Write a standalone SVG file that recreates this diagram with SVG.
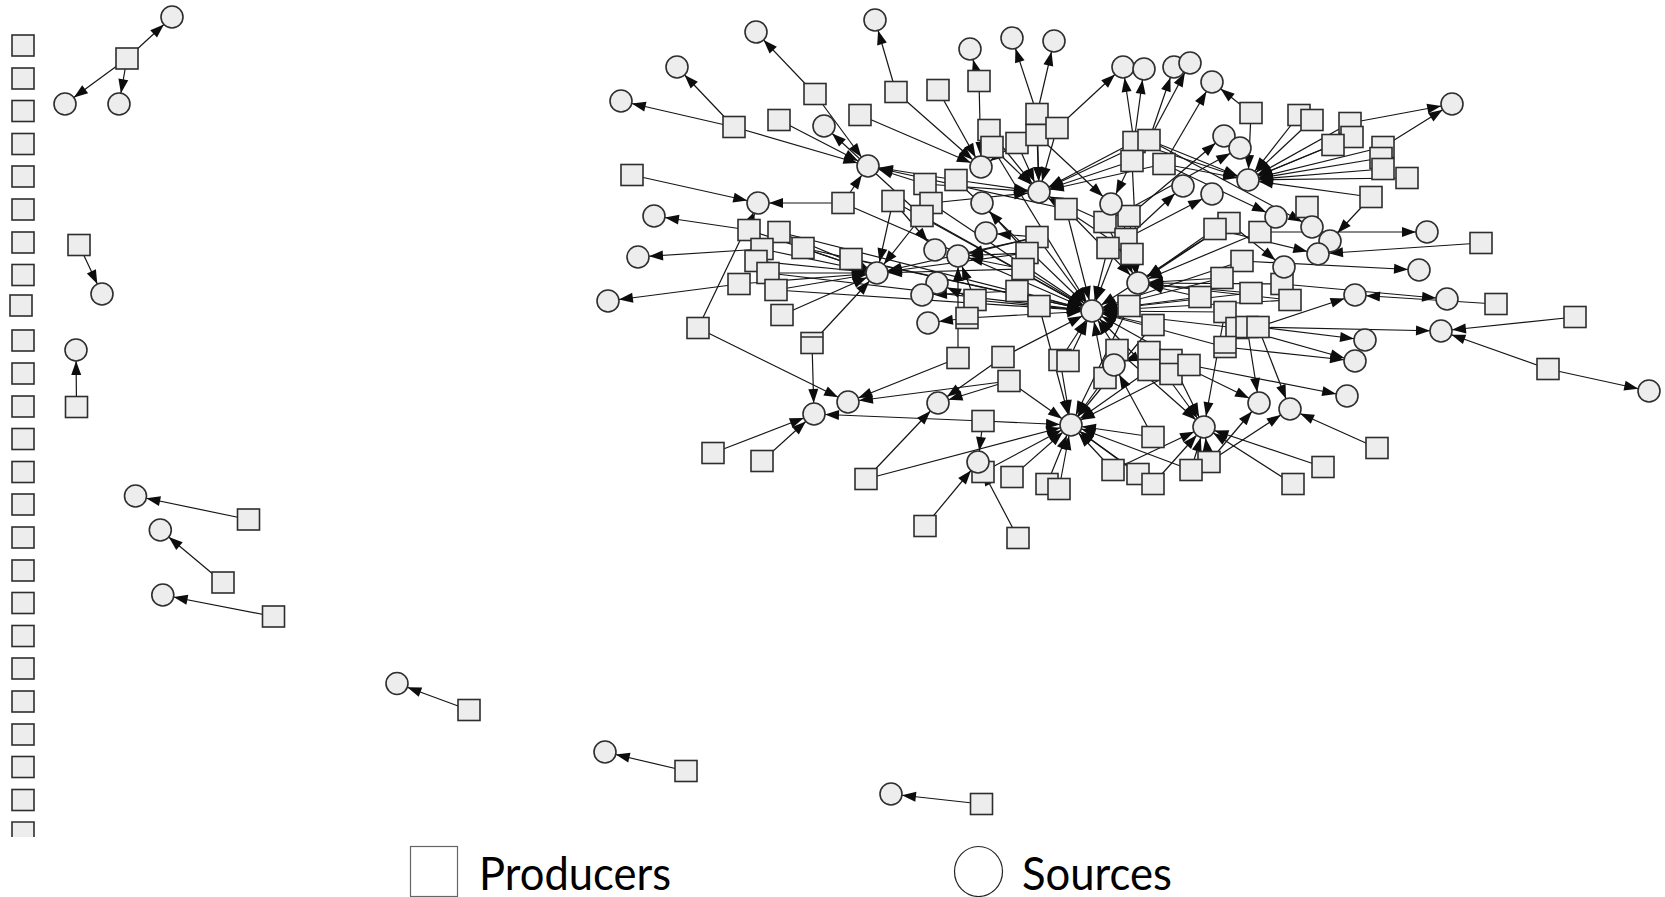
<svg xmlns="http://www.w3.org/2000/svg" width="1665" height="897" viewBox="0 0 1665 897">
<style>
.e line{stroke:#151515;stroke-width:1.2;marker-end:url(#a)}
.n rect,.n circle,.n path.f{fill:#ededed;stroke:#2e2e2e;stroke-width:1.6}
.n line{stroke:#2e2e2e;stroke-width:1.5}
.lg{font-family:"Lato","Liberation Sans",sans-serif;font-size:46px;fill:#000}
</style>
<defs>
<marker id="a" viewBox="-27 -7 28 14" refX="0" refY="0" markerWidth="28" markerHeight="14" markerUnits="userSpaceOnUse" orient="auto"><path d="M-25,-5 L-11,0 L-25,5 z" fill="#0d0d0d"/></marker>
</defs>
<rect width="1665" height="897" fill="#fff"/>
<g id="connectors" class="e">
<line x1="127" y1="58.5" x2="172" y2="17"/><line x1="127" y1="58.5" x2="65" y2="104"/><line x1="127" y1="58.5" x2="119" y2="104"/>
<line x1="79" y1="245" x2="102" y2="294"/>
<line x1="76.5" y1="407" x2="76" y2="350"/>
<line x1="248.5" y1="519.5" x2="135.5" y2="496"/>
<line x1="223" y1="582.5" x2="160.3" y2="530"/>
<line x1="273.5" y1="616.5" x2="162.8" y2="595"/>
<line x1="469" y1="710" x2="397" y2="683.5"/>
<line x1="686" y1="771" x2="605" y2="752"/>
<line x1="981.5" y1="804" x2="891" y2="794"/>
<line x1="815" y1="94" x2="756" y2="32"/><line x1="815" y1="94" x2="868" y2="166"/>
<line x1="896" y1="92" x2="875" y2="20"/><line x1="896" y1="92" x2="981" y2="167"/>
<line x1="938" y1="90" x2="981" y2="167"/>
<line x1="979" y1="81" x2="970" y2="49"/><line x1="979" y1="81" x2="981" y2="167"/>
<line x1="734" y1="127" x2="677" y2="67"/><line x1="734" y1="127" x2="621" y2="101"/><line x1="734" y1="127" x2="868" y2="166"/>
<line x1="779" y1="120" x2="868" y2="166"/>
<line x1="860" y1="115" x2="981" y2="167"/>
<line x1="989" y1="130" x2="981" y2="167"/><line x1="989" y1="130" x2="1039" y2="192"/>
<line x1="992" y1="147" x2="1039" y2="192"/><line x1="992" y1="147" x2="1092" y2="311"/>
<line x1="1017" y1="143" x2="981" y2="167"/><line x1="1017" y1="143" x2="1039" y2="192"/>
<line x1="1037" y1="114" x2="1012" y2="38"/><line x1="1037" y1="114" x2="1054" y2="41"/><line x1="1037" y1="114" x2="1039" y2="192"/>
<line x1="1037" y1="135" x2="1039" y2="192"/><line x1="1037" y1="135" x2="1111" y2="204"/>
<line x1="1057" y1="128" x2="1123" y2="67"/><line x1="1057" y1="128" x2="1039" y2="192"/>
<line x1="632" y1="175" x2="758" y2="203"/>
<line x1="925" y1="184" x2="868" y2="166"/><line x1="925" y1="184" x2="1039" y2="192"/>
<line x1="956" y1="180" x2="868" y2="166"/><line x1="956" y1="180" x2="1039" y2="192"/><line x1="956" y1="180" x2="1092" y2="311"/>
<line x1="843" y1="203" x2="758" y2="203"/><line x1="843" y1="203" x2="868" y2="166"/><line x1="843" y1="203" x2="1092" y2="311"/>
<line x1="893" y1="201" x2="877" y2="273"/><line x1="893" y1="201" x2="1092" y2="311"/><line x1="893" y1="201" x2="935" y2="250"/>
<line x1="931" y1="203" x2="1039" y2="192"/><line x1="931" y1="203" x2="1092" y2="311"/>
<line x1="922" y1="216" x2="877" y2="273"/><line x1="922" y1="216" x2="1092" y2="311"/><line x1="922" y1="216" x2="824" y2="126"/>
<line x1="1037" y1="237" x2="986" y2="233"/><line x1="1037" y1="237" x2="958" y2="256"/><line x1="1037" y1="237" x2="877" y2="273"/><line x1="1037" y1="237" x2="1092" y2="311"/>
<line x1="1027" y1="253" x2="982" y2="203"/><line x1="1027" y1="253" x2="958" y2="256"/><line x1="1027" y1="253" x2="877" y2="273"/>
<line x1="1023" y1="269" x2="958" y2="256"/><line x1="1023" y1="269" x2="877" y2="273"/><line x1="1023" y1="269" x2="1092" y2="311"/>
<line x1="851" y1="259" x2="877" y2="273"/><line x1="851" y1="259" x2="1092" y2="311"/>
<line x1="749" y1="230" x2="758" y2="203"/><line x1="749" y1="230" x2="654" y2="216"/><line x1="749" y1="230" x2="877" y2="273"/>
<line x1="779" y1="232" x2="877" y2="273"/><line x1="779" y1="232" x2="1092" y2="311"/>
<line x1="803" y1="248" x2="877" y2="273"/><line x1="803" y1="248" x2="1092" y2="311"/>
<line x1="762" y1="249" x2="638" y2="257"/><line x1="762" y1="249" x2="877" y2="273"/>
<line x1="756" y1="261" x2="877" y2="273"/>
<line x1="768" y1="273" x2="877" y2="273"/><line x1="768" y1="273" x2="1092" y2="311"/>
<line x1="739" y1="284" x2="608" y2="301"/><line x1="739" y1="284" x2="877" y2="273"/>
<line x1="776" y1="290" x2="877" y2="273"/><line x1="776" y1="290" x2="1092" y2="311"/>
<line x1="782" y1="315" x2="877" y2="273"/>
<line x1="698" y1="328" x2="758" y2="203"/><line x1="698" y1="328" x2="848" y2="402"/>
<line x1="812" y1="343" x2="877" y2="273"/><line x1="812" y1="343" x2="814" y2="414"/>
<line x1="1066" y1="209" x2="868" y2="166"/><line x1="1066" y1="209" x2="1138" y2="283"/><line x1="1066" y1="209" x2="1092" y2="311"/>
<line x1="1134" y1="142" x2="1123" y2="67"/><line x1="1134" y1="142" x2="1144" y2="69"/><line x1="1134" y1="142" x2="1248" y2="180"/><line x1="1134" y1="142" x2="1039" y2="192"/>
<line x1="1149" y1="140" x2="1174" y2="67"/><line x1="1149" y1="140" x2="1190" y2="63"/><line x1="1149" y1="140" x2="1248" y2="180"/><line x1="1149" y1="140" x2="1039" y2="192"/><line x1="1149" y1="140" x2="1312" y2="227"/>
<line x1="1132" y1="161" x2="1111" y2="204"/><line x1="1132" y1="161" x2="1039" y2="192"/><line x1="1132" y1="161" x2="1138" y2="283"/>
<line x1="1164" y1="164" x2="1212" y2="82"/><line x1="1164" y1="164" x2="1248" y2="180"/><line x1="1164" y1="164" x2="1039" y2="192"/><line x1="1164" y1="164" x2="1276" y2="217"/>
<line x1="1251" y1="113" x2="1212" y2="82"/><line x1="1251" y1="113" x2="1248" y2="180"/>
<line x1="1299" y1="115" x2="1248" y2="180"/>
<line x1="1312" y1="120" x2="1248" y2="180"/>
<line x1="1350" y1="123" x2="1248" y2="180"/><line x1="1350" y1="123" x2="1452" y2="104"/>
<line x1="1333" y1="145" x2="1248" y2="180"/>
<line x1="1352" y1="137" x2="1248" y2="180"/>
<line x1="1383" y1="147" x2="1248" y2="180"/><line x1="1383" y1="147" x2="1452" y2="104"/>
<line x1="1381" y1="158" x2="1248" y2="180"/>
<line x1="1383" y1="169" x2="1248" y2="180"/>
<line x1="1407" y1="178" x2="1248" y2="180"/>
<line x1="1371" y1="197" x2="1248" y2="180"/><line x1="1371" y1="197" x2="1330" y2="241"/>
<line x1="1307" y1="207" x2="1312" y2="227"/>
<line x1="1105" y1="222" x2="1240" y2="148"/><line x1="1105" y1="222" x2="1138" y2="283"/><line x1="1105" y1="222" x2="1039" y2="192"/>
<line x1="1129" y1="216" x2="1224" y2="136"/><line x1="1129" y1="216" x2="1138" y2="283"/><line x1="1129" y1="216" x2="1092" y2="311"/>
<line x1="1126" y1="239" x2="1183" y2="186"/><line x1="1126" y1="239" x2="1138" y2="283"/>
<line x1="1108" y1="248" x2="1212" y2="194"/><line x1="1108" y1="248" x2="1092" y2="311"/>
<line x1="1132" y1="254" x2="1138" y2="283"/><line x1="1132" y1="254" x2="1039" y2="192"/>
<line x1="1229" y1="223" x2="1284" y2="267"/><line x1="1229" y1="223" x2="1138" y2="283"/><line x1="1229" y1="223" x2="1092" y2="311"/>
<line x1="1215" y1="229" x2="1318" y2="254"/><line x1="1215" y1="229" x2="1138" y2="283"/>
<line x1="1260" y1="232" x2="1427" y2="232"/><line x1="1260" y1="232" x2="1138" y2="283"/>
<line x1="1242" y1="261" x2="1419" y2="270"/><line x1="1242" y1="261" x2="1092" y2="311"/>
<line x1="1222" y1="278" x2="1138" y2="283"/><line x1="1222" y1="278" x2="1092" y2="311"/>
<line x1="1481" y1="243" x2="1318" y2="254"/>
<line x1="1282" y1="284" x2="1447" y2="299"/><line x1="1282" y1="284" x2="1138" y2="283"/>
<line x1="1251" y1="293" x2="1138" y2="283"/><line x1="1251" y1="293" x2="1092" y2="311"/>
<line x1="1200" y1="297" x2="1138" y2="283"/><line x1="1200" y1="297" x2="1092" y2="311"/>
<line x1="1017" y1="291" x2="922" y2="295"/><line x1="1017" y1="291" x2="1092" y2="311"/>
<line x1="1496" y1="304" x2="1355" y2="295"/>
<line x1="1129" y1="306" x2="1092" y2="311"/><line x1="1129" y1="306" x2="1071" y2="425"/>
<line x1="1153" y1="325" x2="1092" y2="311"/><line x1="1153" y1="325" x2="1071" y2="425"/>
<line x1="1117" y1="350" x2="1092" y2="311"/><line x1="1117" y1="350" x2="1204" y2="427"/>
<line x1="1149" y1="352" x2="1114" y2="365"/><line x1="1149" y1="352" x2="1204" y2="427"/>
<line x1="1149" y1="370" x2="1071" y2="425"/><line x1="1149" y1="370" x2="1092" y2="311"/>
<line x1="1171" y1="360" x2="1204" y2="427"/><line x1="1171" y1="360" x2="1259" y2="403"/>
<line x1="1171" y1="374" x2="1071" y2="425"/>
<line x1="1189" y1="365" x2="1347" y2="396"/><line x1="1189" y1="365" x2="1092" y2="311"/>
<line x1="1105" y1="378" x2="1092" y2="311"/><line x1="1105" y1="378" x2="1071" y2="425"/>
<line x1="1290" y1="300" x2="1138" y2="283"/><line x1="1290" y1="300" x2="1092" y2="311"/>
<line x1="1225" y1="312" x2="1204" y2="427"/><line x1="1225" y1="312" x2="1092" y2="311"/>
<line x1="1237" y1="328" x2="1092" y2="311"/><line x1="1237" y1="328" x2="1355" y2="361"/>
<line x1="1247" y1="327" x2="1441" y2="331"/><line x1="1247" y1="327" x2="1259" y2="403"/>
<line x1="1258" y1="327" x2="1365" y2="340"/><line x1="1258" y1="327" x2="1290" y2="409"/><line x1="1258" y1="327" x2="1355" y2="295"/>
<line x1="1225" y1="347" x2="1355" y2="361"/><line x1="1225" y1="347" x2="1092" y2="311"/>
<line x1="1153" y1="437" x2="1114" y2="365"/><line x1="1153" y1="437" x2="1071" y2="425"/>
<line x1="1209" y1="462" x2="1259" y2="403"/><line x1="1209" y1="462" x2="1290" y2="409"/><line x1="1209" y1="462" x2="1204" y2="427"/>
<line x1="1191" y1="470" x2="1204" y2="427"/><line x1="1191" y1="470" x2="1071" y2="425"/>
<line x1="1323" y1="467" x2="1204" y2="427"/>
<line x1="1113" y1="470" x2="1071" y2="425"/><line x1="1113" y1="470" x2="1204" y2="427"/>
<line x1="1138" y1="474" x2="1071" y2="425"/>
<line x1="1153" y1="484" x2="1204" y2="427"/><line x1="1153" y1="484" x2="1071" y2="425"/>
<line x1="975" y1="300" x2="937" y2="283"/><line x1="975" y1="300" x2="1092" y2="311"/><line x1="975" y1="300" x2="958" y2="256"/>
<line x1="1039" y1="306" x2="1092" y2="311"/><line x1="1039" y1="306" x2="1071" y2="425"/>
<line x1="967" y1="318" x2="928" y2="323"/><line x1="967" y1="318" x2="1092" y2="311"/>
<line x1="958" y1="358" x2="958" y2="256"/><line x1="958" y1="358" x2="848" y2="402"/>
<line x1="1003" y1="357" x2="938" y2="403"/><line x1="1003" y1="357" x2="1092" y2="311"/>
<line x1="1009" y1="381" x2="848" y2="402"/><line x1="1009" y1="381" x2="938" y2="403"/><line x1="1009" y1="381" x2="1071" y2="425"/>
<line x1="983" y1="421" x2="814" y2="414"/><line x1="983" y1="421" x2="978" y2="462"/><line x1="983" y1="421" x2="1071" y2="425"/>
<line x1="1060" y1="360" x2="1092" y2="311"/><line x1="1060" y1="360" x2="1071" y2="425"/>
<line x1="1068" y1="361" x2="1092" y2="311"/>
<line x1="866" y1="479" x2="938" y2="403"/><line x1="866" y1="479" x2="1071" y2="425"/>
<line x1="1012" y1="477" x2="1071" y2="425"/>
<line x1="1047" y1="484" x2="1071" y2="425"/>
<line x1="1059" y1="489" x2="1071" y2="425"/>
<line x1="713" y1="453" x2="814" y2="414"/>
<line x1="762" y1="461" x2="814" y2="414"/>
<line x1="925" y1="526" x2="978" y2="462"/>
<line x1="1018" y1="538" x2="978" y2="462"/>
<line x1="1548" y1="369" x2="1649" y2="391"/><line x1="1548" y1="369" x2="1441" y2="331"/>
<line x1="1575" y1="317" x2="1441" y2="331"/>
<line x1="1377" y1="448" x2="1290" y2="409"/>
<line x1="1293" y1="484" x2="1204" y2="427"/>
<line x1="983" y1="472" x2="1071" y2="425"/>
</g>
<g id="nodes" class="n">
<g id="col"><rect x="12" y="35" width="22" height="21"/><rect x="12" y="68" width="22" height="21"/><rect x="12" y="100.5" width="22" height="21"/><rect x="12" y="133.5" width="22" height="21"/><rect x="12" y="166" width="22" height="21"/><rect x="12" y="199" width="22" height="21"/><rect x="12" y="232" width="22" height="21"/><rect x="12" y="264.5" width="22" height="21"/><rect x="10" y="295" width="22" height="21"/><rect x="12" y="330" width="22" height="21"/><rect x="12" y="363" width="22" height="21"/><rect x="12" y="396" width="22" height="21"/><rect x="12" y="428.5" width="22" height="21"/><rect x="12" y="461.5" width="22" height="21"/><rect x="12" y="494" width="22" height="21"/><rect x="12" y="527" width="22" height="21"/><rect x="12" y="560" width="22" height="21"/><rect x="12" y="592.5" width="22" height="21"/><rect x="12" y="625.5" width="22" height="21"/><rect x="12" y="658" width="22" height="21"/><rect x="12" y="691" width="22" height="21"/><rect x="12" y="724" width="22" height="21"/><rect x="12" y="756.5" width="22" height="21"/><rect x="12" y="789.5" width="22" height="21"/><path class="f" d="M12,837V822H34V837"/></g>
<g id="q1"><rect x="116" y="48" width="22" height="21"/></g>
<g id="q2"><rect x="68" y="234.5" width="22" height="21"/></g>
<g id="q3"><rect x="65.5" y="396.5" width="22" height="21"/></g>
<g id="q4"><rect x="237.5" y="509" width="22" height="21"/></g>
<g id="q5"><rect x="212" y="572" width="22" height="21"/></g>
<g id="q6"><rect x="262.5" y="606" width="22" height="21"/></g>
<g id="q7"><rect x="458" y="699.5" width="22" height="21"/></g>
<g id="q8"><rect x="675" y="760.5" width="22" height="21"/></g>
<g id="q9"><rect x="970.5" y="793.5" width="22" height="21"/></g>
<g id="t1"><circle cx="172" cy="17" r="11"/></g>
<g id="t2"><circle cx="65" cy="104" r="11"/></g>
<g id="t3"><circle cx="119" cy="104" r="11"/></g>
<g id="t4"><circle cx="102" cy="294" r="11"/></g>
<g id="t5"><circle cx="76" cy="350" r="11"/></g>
<g id="t6"><circle cx="135.5" cy="496" r="11"/></g>
<g id="t7"><circle cx="160.3" cy="530" r="11"/></g>
<g id="t8"><circle cx="162.8" cy="595" r="11"/></g>
<g id="b1"><circle cx="397" cy="683.5" r="11"/></g>
<g id="b2"><circle cx="605" cy="752" r="11"/></g>
<g id="b3"><circle cx="891" cy="794" r="11"/></g>
<g id="p1"><rect x="804" y="83.5" width="22" height="21"/></g>
<g id="p2"><rect x="885" y="81.5" width="22" height="21"/></g>
<g id="p3"><rect x="927" y="79.5" width="22" height="21"/></g>
<g id="p4"><rect x="968" y="70.5" width="22" height="21"/></g>
<g id="p5"><rect x="723" y="116.5" width="22" height="21"/></g>
<g id="p6"><rect x="768" y="109.5" width="22" height="21"/></g>
<g id="p7"><rect x="849" y="104.5" width="22" height="21"/></g>
<g id="p8"><rect x="978" y="119.5" width="22" height="21"/></g>
<g id="p9"><rect x="981" y="136.5" width="22" height="21"/></g>
<g id="p10"><rect x="1006" y="132.5" width="22" height="21"/></g>
<g id="p11"><rect x="1026" y="103.5" width="22" height="21"/></g>
<g id="p12"><rect x="1026" y="124.5" width="22" height="21"/></g>
<g id="p13"><rect x="1046" y="117.5" width="22" height="21"/></g>
<g id="p14"><rect x="621" y="164.5" width="22" height="21"/></g>
<g id="p15"><rect x="914" y="173.5" width="22" height="21"/></g>
<g id="p16"><rect x="945" y="169.5" width="22" height="21"/></g>
<g id="p17"><rect x="832" y="192.5" width="22" height="21"/></g>
<g id="p18"><rect x="882" y="190.5" width="22" height="21"/></g>
<g id="p19"><rect x="920" y="192.5" width="22" height="21"/></g>
<g id="p20"><rect x="911" y="205.5" width="22" height="21"/></g>
<g id="p21"><rect x="1026" y="226.5" width="22" height="21"/></g>
<g id="p22"><rect x="1016" y="242.5" width="22" height="21"/></g>
<g id="p23"><rect x="1012" y="258.5" width="22" height="21"/></g>
<g id="p24"><rect x="840" y="248.5" width="22" height="21"/></g>
<g id="p25"><rect x="738" y="219.5" width="22" height="21"/></g>
<g id="p26"><rect x="768" y="221.5" width="22" height="21"/></g>
<g id="p27"><rect x="792" y="237.5" width="22" height="21"/></g>
<g id="p28"><rect x="751" y="238.5" width="22" height="21"/></g>
<g id="p29"><rect x="745" y="250.5" width="22" height="21"/></g>
<g id="p30"><rect x="757" y="262.5" width="22" height="21"/></g>
<g id="p31"><rect x="728" y="273.5" width="22" height="21"/></g>
<g id="p32"><rect x="765" y="279.5" width="22" height="21"/></g>
<g id="p33"><rect x="771" y="304.5" width="22" height="21"/></g>
<g id="p34"><rect x="687" y="317.5" width="22" height="21"/></g>
<g id="p35"><rect x="801" y="332.5" width="22" height="21"/><line x1="801" y1="337" x2="823" y2="337"/></g>
<g id="p36"><rect x="1055" y="198.5" width="22" height="21"/></g>
<g id="p37"><rect x="1123" y="131.5" width="22" height="21"/></g>
<g id="p38"><rect x="1138" y="129.5" width="22" height="21"/></g>
<g id="p39"><rect x="1121" y="150.5" width="22" height="21"/></g>
<g id="p40"><rect x="1153" y="153.5" width="22" height="21"/></g>
<g id="p41"><rect x="1240" y="102.5" width="22" height="21"/></g>
<g id="p42"><rect x="1288" y="104.5" width="22" height="21"/></g>
<g id="p43"><rect x="1301" y="109.5" width="22" height="21"/></g>
<g id="p44"><rect x="1339" y="112.5" width="22" height="21"/></g>
<g id="p46"><rect x="1341" y="126.5" width="22" height="21"/></g>
<g id="p45"><rect x="1322" y="134.5" width="22" height="21"/></g>
<g id="p47"><rect x="1372" y="136.5" width="22" height="21"/></g>
<g id="p48"><rect x="1370" y="147.5" width="22" height="21"/></g>
<g id="p49"><rect x="1372" y="158.5" width="22" height="21"/></g>
<g id="p50"><rect x="1396" y="167.5" width="22" height="21"/></g>
<g id="p51"><rect x="1360" y="186.5" width="22" height="21"/></g>
<g id="p52"><rect x="1296" y="196.5" width="22" height="21"/></g>
<g id="p53"><rect x="1094" y="211.5" width="22" height="21"/></g>
<g id="p54"><rect x="1118" y="205.5" width="22" height="21"/></g>
<g id="p55"><rect x="1115" y="228.5" width="22" height="21"/></g>
<g id="p56"><rect x="1097" y="237.5" width="22" height="21"/></g>
<g id="p57"><rect x="1121" y="243.5" width="22" height="21"/></g>
<g id="p58"><rect x="1218" y="212.5" width="22" height="21"/></g>
<g id="p59"><rect x="1204" y="218.5" width="22" height="21"/></g>
<g id="p60"><rect x="1249" y="221.5" width="22" height="21"/></g>
<g id="p61"><rect x="1231" y="250.5" width="22" height="21"/></g>
<g id="p62"><rect x="1211" y="267.5" width="22" height="21"/></g>
<g id="p63"><rect x="1470" y="232.5" width="22" height="21"/></g>
<g id="p64"><rect x="1271" y="273.5" width="22" height="21"/></g>
<g id="p65"><rect x="1240" y="282.5" width="22" height="21"/></g>
<g id="p66"><rect x="1189" y="286.5" width="22" height="21"/></g>
<g id="p67"><rect x="1006" y="280.5" width="22" height="21"/></g>
<g id="p68"><rect x="1485" y="293.5" width="22" height="21"/></g>
<g id="p69"><rect x="1118" y="295.5" width="22" height="21"/></g>
<g id="p70"><rect x="1142" y="314.5" width="22" height="21"/></g>
<g id="p71"><rect x="1106" y="339.5" width="22" height="21"/></g>
<g id="p72"><rect x="1138" y="341.5" width="22" height="21"/></g>
<g id="p73"><rect x="1138" y="359.5" width="22" height="21"/></g>
<g id="p74"><rect x="1160" y="349.5" width="22" height="21"/></g>
<g id="p75"><rect x="1160" y="363.5" width="22" height="21"/></g>
<g id="p76"><rect x="1178" y="354.5" width="22" height="21"/></g>
<g id="p77"><rect x="1094" y="367.5" width="22" height="21"/></g>
<g id="p78"><rect x="1279" y="289.5" width="22" height="21"/></g>
<g id="p79"><rect x="1214" y="301.5" width="22" height="21"/></g>
<g id="p80"><rect x="1226" y="317.5" width="22" height="21"/></g>
<g id="p81"><rect x="1236" y="316.5" width="22" height="21"/></g>
<g id="p82"><rect x="1247" y="316.5" width="22" height="21"/></g>
<g id="p83"><rect x="1214" y="336.5" width="22" height="21"/><line x1="1214" y1="353" x2="1236" y2="353"/></g>
<g id="p84"><rect x="1142" y="426.5" width="22" height="21"/></g>
<g id="p85"><rect x="1198" y="451.5" width="22" height="21"/></g>
<g id="p86"><rect x="1180" y="459.5" width="22" height="21"/></g>
<g id="p87"><rect x="1312" y="456.5" width="22" height="21"/></g>
<g id="p88"><rect x="1102" y="459.5" width="22" height="21"/></g>
<g id="p89"><rect x="1127" y="463.5" width="22" height="21"/></g>
<g id="p90"><rect x="1142" y="473.5" width="22" height="21"/></g>
<g id="p91"><rect x="964" y="289.5" width="22" height="21"/></g>
<g id="p92"><rect x="1028" y="295.5" width="22" height="21"/></g>
<g id="p93"><rect x="956" y="307.5" width="22" height="21"/><line x1="956" y1="324" x2="978" y2="324"/></g>
<g id="p94"><rect x="947" y="347.5" width="22" height="21"/></g>
<g id="p95"><rect x="992" y="346.5" width="22" height="21"/></g>
<g id="p96"><rect x="998" y="370.5" width="22" height="21"/></g>
<g id="p97"><rect x="972" y="410.5" width="22" height="21"/></g>
<g id="p98"><rect x="1049" y="349.5" width="22" height="21"/></g>
<g id="p99"><rect x="1057" y="350.5" width="22" height="21"/></g>
<g id="p100"><rect x="855" y="468.5" width="22" height="21"/></g>
<g id="p101"><rect x="1001" y="466.5" width="22" height="21"/></g>
<g id="p102"><rect x="1036" y="473.5" width="22" height="21"/></g>
<g id="p103"><rect x="1048" y="478.5" width="22" height="21"/></g>
<g id="p104"><rect x="702" y="442.5" width="22" height="21"/></g>
<g id="p105"><rect x="751" y="450.5" width="22" height="21"/></g>
<g id="p106"><rect x="914" y="515.5" width="22" height="21"/></g>
<g id="p107"><rect x="1007" y="527.5" width="22" height="21"/></g>
<g id="p108"><rect x="1537" y="358.5" width="22" height="21"/></g>
<g id="p109"><rect x="1564" y="306.5" width="22" height="21"/></g>
<g id="p110"><rect x="1366" y="437.5" width="22" height="21"/></g>
<g id="p111"><rect x="1282" y="473.5" width="22" height="21"/></g>
<g id="p113"><rect x="972" y="461.5" width="22" height="21"/></g>
<g id="s1"><circle cx="875" cy="20" r="11"/></g>
<g id="s2"><circle cx="756" cy="32" r="11"/></g>
<g id="s3"><circle cx="677" cy="67" r="11"/></g>
<g id="s4"><circle cx="621" cy="101" r="11"/></g>
<g id="s5"><circle cx="970" cy="49" r="11"/></g>
<g id="s6"><circle cx="1012" cy="38" r="11"/></g>
<g id="s7"><circle cx="1054" cy="41" r="11"/></g>
<g id="s8"><circle cx="1123" cy="67" r="11"/></g>
<g id="s9"><circle cx="1144" cy="69" r="11"/></g>
<g id="s10"><circle cx="1174" cy="67" r="11"/></g>
<g id="s11"><circle cx="1190" cy="63" r="11"/></g>
<g id="s12"><circle cx="1212" cy="82" r="11"/></g>
<g id="s13"><circle cx="1452" cy="104" r="11"/></g>
<g id="s14"><circle cx="824" cy="126" r="11"/></g>
<g id="h1"><circle cx="868" cy="166" r="11"/></g>
<g id="s15"><circle cx="758" cy="203" r="11"/></g>
<g id="s16"><circle cx="654" cy="216" r="11"/></g>
<g id="s17"><circle cx="638" cy="257" r="11"/></g>
<g id="s18"><circle cx="608" cy="301" r="11"/></g>
<g id="h2"><circle cx="981" cy="167" r="11"/></g>
<g id="h3"><circle cx="1039" cy="192" r="11"/></g>
<g id="s19"><circle cx="982" cy="203" r="11"/></g>
<g id="s20"><circle cx="986" cy="233" r="11"/></g>
<g id="s21"><circle cx="935" cy="250" r="11"/></g>
<g id="h4"><circle cx="958" cy="256" r="11"/></g>
<g id="h5"><circle cx="877" cy="273" r="11"/></g>
<g id="s22"><circle cx="1224" cy="136" r="11"/></g>
<g id="s23"><circle cx="1240" cy="148" r="11"/></g>
<g id="h6"><circle cx="1248" cy="180" r="11"/></g>
<g id="s24"><circle cx="1183" cy="186" r="11"/></g>
<g id="s25"><circle cx="1212" cy="194" r="11"/></g>
<g id="s26"><circle cx="1111" cy="204" r="11"/></g>
<g id="s27"><circle cx="1276" cy="217" r="11"/></g>
<g id="s28"><circle cx="1312" cy="227" r="11"/></g>
<g id="s29"><circle cx="1330" cy="241" r="11"/></g>
<g id="s30"><circle cx="1318" cy="254" r="11"/></g>
<g id="s31"><circle cx="1284" cy="267" r="11"/></g>
<g id="s32"><circle cx="1427" cy="232" r="11"/></g>
<g id="s33"><circle cx="1419" cy="270" r="11"/></g>
<g id="h7"><circle cx="1138" cy="283" r="11"/></g>
<g id="h8"><circle cx="1092" cy="311" r="11"/></g>
<g id="s34"><circle cx="1355" cy="295" r="11"/></g>
<g id="s35"><circle cx="1447" cy="299" r="11"/></g>
<g id="s36"><circle cx="1441" cy="331" r="11"/></g>
<g id="s37"><circle cx="1365" cy="340" r="11"/></g>
<g id="s38"><circle cx="1355" cy="361" r="11"/></g>
<g id="s39"><circle cx="1347" cy="396" r="11"/></g>
<g id="s40"><circle cx="1649" cy="391" r="11"/></g>
<g id="s41"><circle cx="1114" cy="365" r="11"/></g>
<g id="s42"><circle cx="1259" cy="403" r="11"/></g>
<g id="s43"><circle cx="1290" cy="409" r="11"/></g>
<g id="h9"><circle cx="1071" cy="425" r="11"/></g>
<g id="h10"><circle cx="1204" cy="427" r="11"/></g>
<g id="s44"><circle cx="937" cy="283" r="11"/></g>
<g id="s45"><circle cx="922" cy="295" r="11"/></g>
<g id="s46"><circle cx="928" cy="323" r="11"/></g>
<g id="s47"><circle cx="848" cy="402" r="11"/></g>
<g id="s48"><circle cx="814" cy="414" r="11"/></g>
<g id="s49"><circle cx="938" cy="403" r="11"/></g>
<g id="s50"><circle cx="978" cy="462" r="11"/></g>
</g>
<g id="legend">
<rect x="410.5" y="846.5" width="47" height="50" fill="#fff" stroke="#666" stroke-width="1.2"/>
<text class="lg" x="479" y="890" textLength="192" lengthAdjust="spacingAndGlyphs">Producers</text>
<ellipse cx="978.5" cy="871.5" rx="24" ry="25" fill="#fff" stroke="#222" stroke-width="1.2"/>
<text class="lg" x="1022" y="890" textLength="150" lengthAdjust="spacingAndGlyphs">Sources</text>
</g>
</svg>
